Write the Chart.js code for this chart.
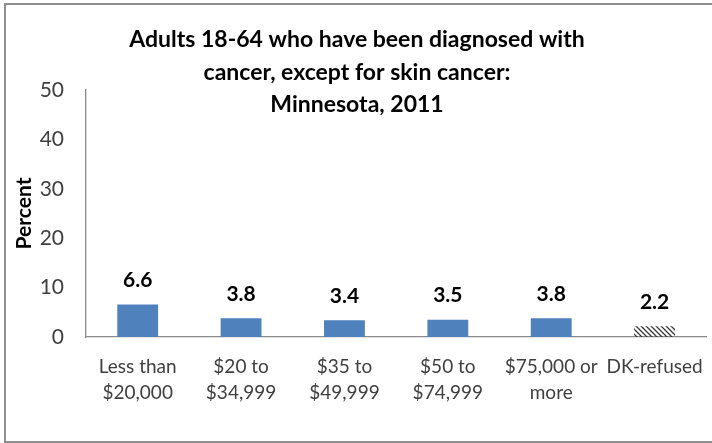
<!DOCTYPE html>
<html>
<head>
<meta charset="utf-8">
<script src="https://cdn.jsdelivr.net/npm/chart.js@4/dist/chart.umd.min.js"></script>
<style>
  body { margin: 0; background: #fff; }
  #wrap { position: relative; width: 712px; height: 443px; overflow: hidden; }
  #frame { position: absolute; left: 4px; top: 3px; width: 720px; height: 436px; border: 2px solid #8e8e8e; pointer-events: none; }
</style>
</head>
<body>
<div id="wrap">
  <canvas id="chart"></canvas>
  <div id="frame"></div>
</div>
<script>
const categories = [["Less than", "$20,000"], ["$20 to", "$34,999"], ["$35 to", "$49,999"], ["$50 to", "$74,999"], ["$75,000 or", "more"], "DK-refused"];
const percents = [6.6, 3.8, 3.4, 3.5, 3.8, 2.2];
const titleLines = ["Adults 18-64 who have been diagnosed with", "cancer, except for skin cancer:", "Minnesota, 2011"];
const yTicks = [0, 10, 20, 30, 40, 50];

const FONT = "Lato, 'Open Sans', sans-serif";

// hatch for the "DK-refused" bar
function makeHatch() {
    const c = document.createElement('canvas');
    c.width = 5; c.height = 5;
    const g = c.getContext('2d');
    g.strokeStyle = '#3a3a3a';
    g.lineWidth = 1.3;
    g.beginPath();
    g.moveTo(-1, -1); g.lineTo(6, 6);
    g.moveTo(-1, 4); g.lineTo(1, 6);
    g.moveTo(4, -1); g.lineTo(6, 1);
    g.stroke();
    return g.createPattern(c, 'repeat');
}

const barColors = percents.map((_, i) => i === percents.length - 1 ? makeHatch() : '#4f81bd');

const valueLabels = {
    id: 'valueLabels',
    afterDatasetsDraw(chart) {
        const ctx = chart.ctx;
        const meta = chart.getDatasetMeta(0);
        ctx.save();
        ctx.font = "bold 21px " + FONT;
        ctx.fillStyle = '#000';
        ctx.textAlign = 'center';
        ctx.textBaseline = 'middle';
        meta.data.forEach((bar, i) => {
            ctx.fillText(percents[i].toFixed(1), bar.x, bar.y - 24);
        });
        ctx.restore();
    }
};

const titleText = {
    id: 'titleText',
    afterDraw(chart) {
        const ctx = chart.ctx;
        ctx.save();
        ctx.font = "bold 23px " + FONT;
        ctx.fillStyle = '#000';
        ctx.textAlign = 'center';
        ctx.textBaseline = 'alphabetic';
        titleLines.forEach((line, i) => {
            ctx.fillText(line, chart.width / 2 + 1, 47 + i * 32.5);
        });
        ctx.restore();
    }
};

new Chart(document.getElementById('chart'), {
    type: 'bar',
    data: {
        labels: categories,
        datasets: [{
            data: percents,
            backgroundColor: barColors,
            categoryPercentage: 1,
            barPercentage: 0.395
        }]
    },
    options: {
        responsive: true,
        maintainAspectRatio: false,
        animation: false,
        layout: { padding: { left: 8, top: 90, right: 4, bottom: 0 } },
        plugins: {
            legend: { display: false },
            title: { display: false },
            tooltip: { enabled: false }
        },
        scales: {
            x: {
                grid: { display: false },
                border: { color: '#8a8a8a', width: 1.3 },
                ticks: {
                    color: '#404040',
                    font: { family: FONT, size: 19, lineHeight: 1.37 },
                    padding: 9,
                    maxRotation: 0,
                    autoSkip: false
                },
                afterFit(scale) { scale.height = 106; }
            },
            y: {
                min: 0,
                max: 50,
                afterBuildTicks(scale) { scale.ticks = yTicks.map(v => ({ value: v })); },
                grid: { display: false, drawTicks: false },
                border: { color: '#8a8a8a', width: 1.3 },
                ticks: {
                    color: '#404040',
                    font: { family: FONT, size: 21 },
                    padding: 22
                },
                title: {
                    display: true,
                    text: 'Percent',
                    color: '#000',
                    font: { family: FONT, size: 21, weight: 'bold' },
                    padding: { top: 4, bottom: 0 }
                },
                afterFit(scale) { scale.width = 78; }
            }
        }
    },
    plugins: [valueLabels, titleText]
});
</script>
</body>
</html>
